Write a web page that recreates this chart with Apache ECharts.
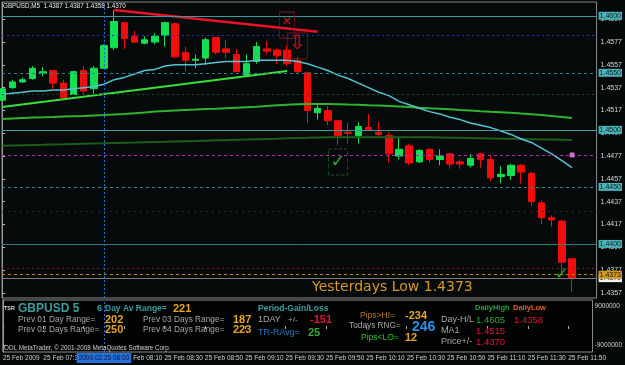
<!DOCTYPE html>
<html><head><meta charset="utf-8">
<script src="https://cdn.jsdelivr.net/npm/echarts@6/dist/echarts.min.js"></script>
<style>html,body{margin:0;padding:0;background:#050808;}#c{width:625px;height:365px;}</style>
</head><body><div id="c"></div>
<script>
// ---- data (GBPUSD M5, 25 Feb 2009, 07:10 .. 11:50) ----
const opens  = [1.4526,1.4537,1.4542,1.4545,1.4550,1.4552,1.4541,1.4531,1.4552,1.4536,
                1.4554,1.4572,1.4594,1.4582,1.4576,1.4577,1.4583,1.4593,1.4568,1.4561,
                1.4563,1.4581,1.4571,1.4566,1.4548,1.4560,1.4571,1.4570,1.4570,1.4561,
                1.4550,1.4515,1.4517,1.4508,1.4498,1.4495,1.4502,1.4498,1.4495,1.4477,
                1.4486,1.4472,1.4483,1.4474,1.4479,1.4472,1.4469,1.4479,1.4474,1.4459,
                1.4460,1.4469,1.4462,1.4436,1.4423,1.4420,1.4387];
const closes = [1.4536,1.4542,1.4544,1.4554,1.4551,1.4541,1.4528,1.4551,1.4534,1.4554,
                1.4574,1.4595,1.4580,1.4577,1.4579,1.4582,1.4594,1.4564,1.4561,1.4562,
                1.4579,1.4568,1.4568,1.4551,1.4558,1.4573,1.4569,1.4565,1.4558,1.4551,
                1.4517,1.4519,1.4508,1.4495,1.4497,1.4503,1.4500,1.4496,1.4479,1.4483,
                1.4471,1.4482,1.4474,1.4477,1.4470,1.4470,1.4475,1.4474,1.4458,1.4461,
                1.4469,1.4463,1.4437,1.4423,1.4421,1.4384,1.4370];
const lows   = [1.4525,1.4536,1.4541,1.4544,1.4547,1.4536,1.4528,1.4531,1.4531,1.4530,
                1.4554,1.4570,1.4571,1.4576,1.4575,1.4575,1.4573,1.4563,1.4551,1.4554,
                1.4557,1.4566,1.4563,1.4551,1.4547,1.4558,1.4566,1.4558,1.4556,1.4550,
                1.4506,1.4509,1.4504,1.4487,1.4488,1.4488,1.4500,1.4494,1.4471,1.4474,
                1.4469,1.4471,1.4471,1.4469,1.4466,1.4466,1.4467,1.4467,1.4455,1.4453,
                1.4456,1.4453,1.4433,1.4417,1.4415,1.4375,1.4358];
const highs  = [1.4537,1.4544,1.4546,1.4556,1.4555,1.4552,1.4544,1.4552,1.4556,1.4556,
                1.4575,1.4605,1.4595,1.4587,1.4582,1.4585,1.4595,1.4594,1.4573,1.4566,
                1.4581,1.4581,1.4579,1.4571,1.4566,1.4577,1.4578,1.4571,1.4574,1.4564,
                1.4551,1.4522,1.4521,1.4509,1.4506,1.4507,1.4514,1.4507,1.4498,1.4493,
                1.4488,1.4483,1.4484,1.4483,1.4480,1.4474,1.4479,1.4480,1.4477,1.4468,
                1.4470,1.4470,1.4463,1.4438,1.4425,1.4421,1.4387];
const maFast = [1.4531,1.4532,1.4533,1.4534,1.4534,1.4535,1.4535,1.4536,1.4537,1.4538,
                1.4540,1.4544,1.4546,1.4549,1.4552,1.4553,1.4556,1.4557,1.4557,1.4557,
                1.4558,1.4559,1.4560,1.4560,1.4560,1.4561,1.4561,1.4561,1.4561,1.4560,
                1.4558,1.4555,1.4552,1.4548,1.4545,1.4541,1.4537,1.4533,1.4530,1.4525,
                1.4522,1.4519,1.4516,1.4514,1.4511,1.4509,1.4506,1.4504,1.4502,1.4499,
                1.4496,1.4492,1.4489,1.4484,1.4479,1.4473,1.4467];
const maMid  = [1.45095,1.45100,1.45104,1.45108,1.45110,1.45113,1.45117,1.45120,1.45121,1.45126,
                1.45130,1.45135,1.45139,1.45145,1.45152,1.45161,1.45165,1.45170,1.45174,1.45178,
                1.45183,1.45186,1.45190,1.45194,1.45198,1.45202,1.45209,1.45215,1.45221,1.45225,
                1.45227,1.45227,1.45227,1.45225,1.45222,1.45220,1.45216,1.45213,1.45209,1.45205,
                1.45200,1.45194,1.45189,1.45185,1.45180,1.45174,1.45169,1.45163,1.45158,1.45154,
                1.45150,1.45143,1.45137,1.45130,1.45121,1.45113,1.45104];
const maSlow = [1.44861,1.44863,1.44865,1.44867,1.44869,1.44872,1.44873,1.44876,1.44878,1.44880,
                1.44882,1.44885,1.44887,1.44889,1.44892,1.44894,1.44896,1.44899,1.44901,1.44902,
                1.44905,1.44908,1.44910,1.44913,1.44915,1.44918,1.44921,1.44923,1.44926,1.44929,
                1.44931,1.44934,1.44935,1.44935,1.44935,1.44935,1.44935,1.44935,1.44935,1.44935,
                1.44935,1.44935,1.44935,1.44933,1.44931,1.44930,1.44929,1.44927,1.44925,1.44923,
                1.44922,1.44920,1.44918,1.44916,1.44915,1.44913,1.44911];
const redTrend   = [[11, 1.4605], [31, 1.4586]];
const greenTrend = [[0, 1.4520], [28, 1.45516]];
const tickIndex  = [0,4,8,12,16,20,24,28,32,36,40,44,48,52,56];
const tickLabels = ['25 Feb 2009','25 Feb 07:30','25 Feb 07:50','25 Feb 08:10','25 Feb 08:30',
                    '25 Feb 08:50','25 Feb 09:10','25 Feb 09:30','25 Feb 09:50','25 Feb 10:10',
                    '25 Feb 10:30','25 Feb 10:50','25 Feb 11:10','25 Feb 11:30','25 Feb 11:50'];
const priceTicks = [1.4357,1.4377,1.4397,1.4417,1.4437,1.4457,1.4477,1.4497,1.4517,1.4537,1.4557,1.4577,1.4597];
const hLineValues = [1.4600,1.4583,1.4550,1.4531,1.4500,1.4478,1.4450,1.4429,1.4400,1.4379,1.4370,1.4373];
const markerBar = 10; // 08:00 crosshair
const annotations = [[28,1.45919],[29,1.45735],[33,1.44718],[55,1.43728],[56,1.44780]];
const header = 'GBPUSD,M5  1.4387 1.4387 1.4358 1.4370';

// ---- styles ----
const F = '"Liberation Sans", Arial, sans-serif';
const xMin = -0.02, xMax = 58.41;
const hLineStyles = [
  {c:'#3a9c9c', t:'solid', tag:'teal'},
  {c:'#2436c8', t:[2,3]},
  {c:'#2a7f7f', t:[3,3], tag:'teal'},
  {c:'#1c4e26', t:[2,3]},
  {c:'#3a9c9c', t:'solid', tag:'teal'},
  {c:'#a832a8', t:[3,3]},
  {c:'#2f8787', t:[3,3], tag:'teal'},
  {c:'#143c1c', t:[2,4]},
  {c:'#2d7c74', t:'solid', tag:'teal'},
  {c:'#96101f', t:[2,3]},
  {c:'#7c7c7c', t:'solid', tag:'white'},
  {c:'#b88412', t:[3,3], tag:'orange'}
];
const tagStyle = {
  teal:  {bg:'#4ab2b8', fg:'#062222'},
  orange:{bg:'#d09a22', fg:'#201400'},
  white: {bg:'#f0f0f0', fg:'#202020'}
};
const hMarks = hLineValues.map((v,i)=>{
  const s = hLineStyles[i];
  const item = {yAxis:v, lineStyle:{color:s.c, type:s.t, width:1}};
  if (s.tag) {
    const ts = tagStyle[s.tag];
    item.label = {show:true, position:'end', distance:2, formatter:v.toFixed(4),
      backgroundColor:ts.bg, color:ts.fg, fontSize:7, fontFamily:F, padding:[1,1,0,1]};
  } else item.label = {show:false};
  return item;
});

const annStyles = [
  {symbol:'rect', size:[15,26], border:'#8c1424', text:'✕', tc:'#ff1a1a', fs:12, off:[0,-3]},
  {symbol:'rect', size:[20,26], border:'#8c1424', text:'⇩', tc:'#d0182a', fs:20, off:[0,-2]},
  {symbol:'rect', size:[19,26], border:'#1f6a2c', text:'✓', tc:'#36c83a', fs:18, off:[0,0], dashed:true},
  {symbol:'circle', size:1, border:'rgba(0,0,0,0)', text:'✓', tc:'#36c83a', fs:17, off:[0,0]},
  {symbol:'rect', size:4, fill:'#f080f0', border:'#f080f0', text:''}
];
const annData = annotations.map((p,i)=>{
  const s = annStyles[i];
  return {value:p, symbol:s.symbol, symbolSize:s.size,
    itemStyle:{color:s.fill||'rgba(0,0,0,0)', borderColor:s.border, borderWidth:1, borderType:s.dashed?'dashed':'solid'},
    label:{show:!!s.text, position:'inside', formatter:s.text, color:s.tc, fontSize:s.fs||10,
      fontWeight:'bold', fontFamily:'"DejaVu Sans", sans-serif', offset:s.off||[0,0]}};
});

const gray='#a6a6a6', teal='#3e9e9e', orange='#e6a426', red='#e4123a', green='#36a83c';
const panelTexts = [
  ['TSR',4,308,'bold 5.5px '+F,'#d8d8d8'],
  ['GBPUSD 5',18,309,'bold 12px '+F,teal],
  ['6',97,309,'bold 9px '+F,teal],
  ['Day Av Range=',105,309,'bold 8.5px '+F,teal],
  ['221',173,309,'bold 11px '+F,orange],
  ['Prev 01 Day Range=',18,320,'8.3px '+F,gray],
  ['202',105,320,'bold 11px '+F,orange],
  ['Prev 02 Days Range=',18,330,'8.3px '+F,gray],
  ['250',105,330,'bold 11px '+F,orange],
  ['Prev 03 Days Range=',143,320,'8.3px '+F,gray],
  ['187',233,320,'bold 11px '+F,orange],
  ['Prev 04 Days Range=',143,330,'8.3px '+F,gray],
  ['223',233,330,'bold 11px '+F,orange],
  ['Period-Gain/Loss',258,309,'bold 8.5px '+F,teal],
  ['1DAY',258,320,'9px '+F,gray],
  ['+/-',288,320,'8px '+F,gray],
  ['-151',310,320,'bold 11px '+F,red],
  ['TR-RAvg=',258,333,'9px '+F,'#2a78c8'],
  ['25',308,333,'bold 11px '+F,green],
  ['ODL MetaTrader, © 2001-2008 MetaQuotes Software Corp.',4,348,'6.3px '+F,'#cfcfcf'],
  ['Pips>HI=',360,316,'8.5px '+F,'#b07a20'],
  ['-234',405,316,'bold 11px '+F,orange],
  ['Todays RNG=',349,326,'8.3px '+F,gray],
  ['246',412,327,'bold 14px '+F,'#2a92ea'],
  ['Pips<LO=',361,338,'8.5px '+F,'#30c030'],
  ['12',405,338,'bold 11px '+F,orange],
  ['DailyHigh',475,308,'bold 7.5px '+F,'#2e9e3a'],
  ['DailyLow',513,308,'bold 7.5px '+F,'#e6602e'],
  ['Day-H/L',441,320,'9px '+F,gray],
  ['1.4605',476,320,'9.5px '+F,'#3aa63a'],
  ['1.4358',514,320,'9.5px '+F,red],
  ['MA1',441,331,'9px '+F,gray],
  ['1.4515',476,331,'9.5px '+F,red],
  ['Price+/-',441,342,'9px '+F,gray],
  ['1.4370',476,342,'9.5px '+F,red]
];
const graphics = panelTexts.map(t=>({type:'text', x:t[1], y:t[2], z:100,
  style:{text:t[0], font:t[3], fill:t[4], textVerticalAlign:'middle'}}));
graphics.push({type:'text', x:3, y:6, z:100, style:{text:header, font:'6.3px '+F, fill:'#e6e6e6', textVerticalAlign:'middle'}});
graphics.push({type:'text', x:312, y:287, z:100, style:{text:'Yesterdays Low 1.4373', font:'14px "DejaVu Sans", sans-serif', fill:'#d89a2a', textVerticalAlign:'middle'}});

const chart = echarts.init(document.getElementById('c'), null, {renderer:'canvas', width:625, height:365});
chart.setOption({
  backgroundColor:'#050808',
  animation:false,
  grid:[
    {left:2, right:27, top:2, height:296, show:true, borderColor:'#8c8c8c', borderWidth:1, backgroundColor:'#060a0a'},
    {left:2, right:27, top:300, height:52, show:true, borderColor:'#8c8c8c', borderWidth:1, backgroundColor:'#020404'}
  ],
  xAxis:[
    {type:'value', gridIndex:0, min:xMin, max:xMax, axisLine:{show:false}, axisTick:{show:false}, axisLabel:{show:false}, splitLine:{show:false}},
    {type:'value', gridIndex:1, min:xMin, max:xMax, axisLine:{show:false},
      axisTick:{show:true, customValues:tickIndex, length:3, lineStyle:{color:'#b0b0b0'}},
      axisLabel:{show:true, customValues:tickIndex, align:'left', margin:3, fontSize:6.5, fontFamily:F, color:'#d0d0d0',
        formatter:(v)=>tickLabels[tickIndex.indexOf(Math.round(v))]},
      splitLine:{show:false}}
  ],
  yAxis:[
    {type:'value', gridIndex:0, position:'right', min:1.43526, max:1.46121, scale:true,
      axisLine:{show:true, lineStyle:{color:'#9a9a9a'}},
      axisTick:{show:true, customValues:priceTicks, length:3, lineStyle:{color:'#b0b0b0'}},
      axisLabel:{show:true, customValues:priceTicks, margin:4, fontSize:7, fontFamily:F, color:'#d8d8d8', formatter:(v)=>v.toFixed(4)},
      splitLine:{show:false}},
    {type:'value', gridIndex:1, position:'right', min:-12000000, max:12000000,
      axisLine:{show:true, lineStyle:{color:'#9a9a9a'}},
      axisTick:{show:true, customValues:[9000000,-9000000], length:3, lineStyle:{color:'#b0b0b0'}},
      axisLabel:{show:true, customValues:[9000000,-9000000], margin:2, fontSize:6.5, fontFamily:F, color:'#d0d0d0', formatter:(v)=>String(v)},
      splitLine:{show:false}}
  ],
  series:[
    {type:'candlestick', xAxisIndex:0, yAxisIndex:0, barWidth:7,
      data: opens.map((o,i)=>[i, o, closes[i], lows[i], highs[i]]),
      itemStyle:{color:'#12e052', color0:'#f20c0c', borderColor:'#12e052', borderColor0:'#f20c0c', borderWidth:1},
      markLine:{silent:true, precision:5, symbol:['none','none'], animation:false,
        data: hMarks.concat([{xAxis:markerBar, lineStyle:{color:'#2a6cd8', type:[2,2], width:1}, label:{show:false}}])}},
    {type:'line', xAxisIndex:0, yAxisIndex:0, showSymbol:false, data: maSlow.map((v,i)=>[i,v]), lineStyle:{color:'#1b5e1c', width:2}},
    {type:'line', xAxisIndex:0, yAxisIndex:0, showSymbol:false, data: maMid.map((v,i)=>[i,v]), lineStyle:{color:'#2eb42e', width:2}},
    {type:'line', xAxisIndex:0, yAxisIndex:0, showSymbol:false, data: maFast.map((v,i)=>[i,v]), lineStyle:{color:'#54c4d4', width:1.5}},
    {type:'line', xAxisIndex:0, yAxisIndex:0, showSymbol:false, data: greenTrend, lineStyle:{color:'#3ade3a', width:2}},
    {type:'line', xAxisIndex:0, yAxisIndex:0, showSymbol:false, data: redTrend, lineStyle:{color:'#ea1226', width:2.5}},
    {type:'scatter', xAxisIndex:0, yAxisIndex:0, data: annData, z:5},
    {type:'line', xAxisIndex:1, yAxisIndex:1, data:[], markLine:{silent:true, precision:5, symbol:['none','none'], animation:false,
      data:[{xAxis:markerBar, lineStyle:{color:'#2a6cd8', type:[2,2], width:1},
        label:{show:true, position:'start', distance:1, formatter:'2009.02.25 08:00', backgroundColor:'#2470d8', color:'#0a1840',
          fontSize:6.5, fontFamily:F, padding:[2,2,1,2]}}]}}
  ],
  graphic: graphics
});
</script></body></html>
